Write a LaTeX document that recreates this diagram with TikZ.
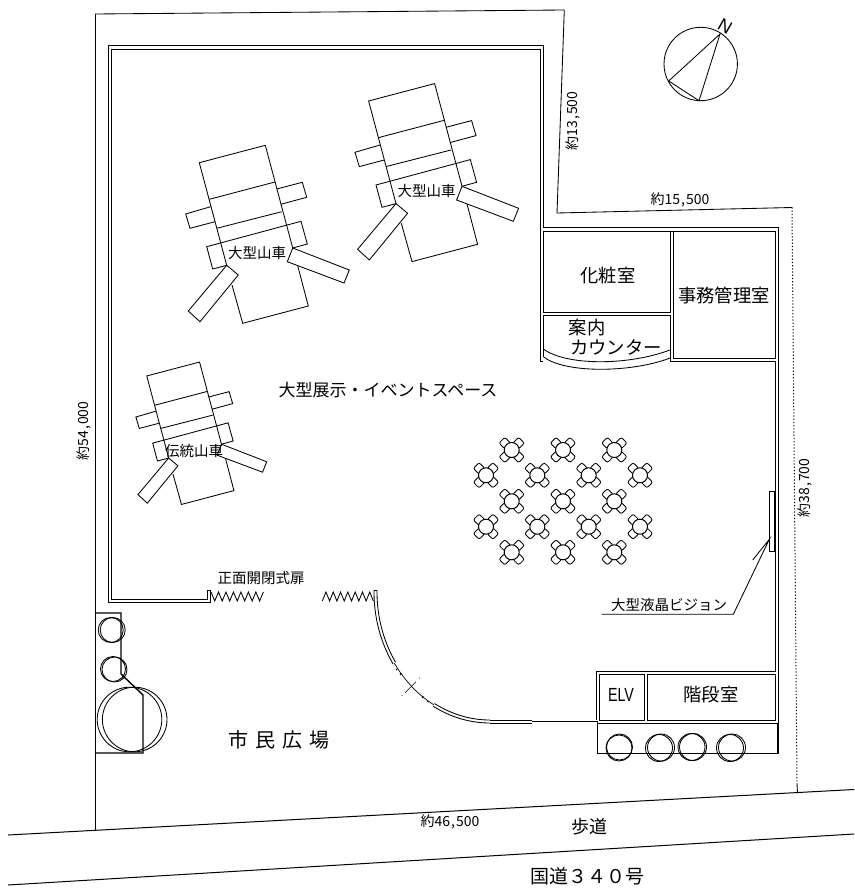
\documentclass[tikz,border=0pt]{standalone}
\usepackage{graphicx}
\usepackage{fontspec}
\setmainfont{Noto Sans CJK JP}
\newfontfamily\latinlab{Liberation Sans}
\newcommand{\vehicle}{%
  \draw[ln] (226.7,265.3) -- (199.3,162.7) -- (265.3,145.3) -- (292.7,248);
  \draw[ln] (297.7,265.7) -- (308.3,306) -- (242.7,323.3) -- (232,285);
  \draw[ln] (209.3,199.3) -- (275,182);
  \draw[ln] (216.7,228.3) -- (281.7,211.7);
  \draw[ln] (226.7,265.3) -- (212.7,269) -- (206.7,246.7) -- (301,221.3) -- (307.3,244) -- (292.7,248);
  \draw[ln] (276.7,189) -- (302.3,182.3) -- (306.7,197.3) -- (280.7,204.3);
  \draw[ln] (210.7,206.7) -- (185.7,214) -- (190,228.3) -- (215,221.7);
  \draw[ln] (226.7,265.3) -- (238.3,275) -- (200,321.7) -- (188.3,311) -- cycle;
  \draw[ln] (292.7,248) -- (349.3,270) -- (344,283) -- (287.3,261.7) -- cycle;
}
\newcommand{\tableset}[2]{%
  \begin{scope}[shift={(#1,#2)}]
    \foreach \sx/\sy in {-6.9/-6.9,6.9/-6.9,-6.9/6.9,6.9/6.9}{
      \draw[ln,fill=white,rounded corners=2pt] (\sx-5.8,\sy) -- (\sx,\sy-5.8) -- (\sx+5.8,\sy) -- (\sx,\sy+5.8) -- cycle;
    }
    \draw[line width=1pt,fill=white] (0,0) circle[radius=7.5pt];
  \end{scope}
}
\tikzset{
  ln/.style={line width=.85pt,black,line join=miter},
  heavy/.style={line width=1.4pt,black},
  txt/.style={inner sep=0,outer sep=0,black},
  dimlab/.style={txt,font=\fontsize{14}{14}\selectfont},
  mid/.style={txt,font=\fontsize{14.5}{15}\selectfont},
  room/.style={txt,font=\fontsize{18.3}{19}\selectfont}
}
\begin{document}
\begin{tikzpicture}[x=1pt,y=-1pt]
\useasboundingbox (0,0) rectangle (854,890);
% site boundary and road
\coordinate (s1) at (95.5,830);
\coordinate (s2) at (95.5,14);
\coordinate (s3) at (564.3,10);
\coordinate (s4) at (557,213);
\coordinate (s5) at (792,207.5);
\coordinate (s6) at (797,784);
\coordinate (s7) at (797.5,793);
\draw[ln] (s1) -- (s2) -- (s3) -- (s4) -- (s5);
\draw[line width=1pt,dash pattern=on 1.2pt off 2pt] (s5) -- (s6);
\draw[ln] (s6) -- (s7);
\draw[line width=1pt] (8,835) -- (854,789.5);
\draw[line width=1pt] (8,885) -- (854,834);
% main hall walls
\draw[ln] (207,590) -- (207,599) -- (111,599) -- (111,49) -- (540,49) -- (540,361) -- (543,361);
\draw[ln] (210,590) -- (207,590);
\draw[ln] (210,590) -- (210,602.5) -- (108,602.5) -- (108,45.5) -- (543.3,45.5) -- (543.3,227) -- (778,227) -- (778,754);
\draw[ln] (543.3,231) -- (775,231) -- (775,358) -- (673,358) -- (673,231);
\draw[ln] (543.3,231) rectangle (670,312);
\draw[ln] (543.3,356.7) -- (543.3,315) -- (670,315) -- (670,361) -- (775,361) -- (775,671) -- (596.5,671) -- (596.5,720);
% counter curve
\draw[ln] (543.3,349) .. controls (566,365.8) and (628,365.8) .. (670,350);
\draw[ln] (543.3,356.7) .. controls (564,373) and (627,373) .. (666.7,359.3) -- (670,358);
% stair block
\draw[ln] (599.3,674) rectangle (644,720.5);
\draw[ln] (647,674) rectangle (775,720.5);
\draw[ln] (597.3,723.3) -- (777,723.3);
\draw[heavy] (597.3,721) -- (597.3,753.3) -- (777.2,753.3) -- (777.2,723.3);
\draw[ln] (490,723) -- (532,723);
\draw[ln] (490,720) -- (532,720);
\draw[line width=1.1pt] (532,721.2) -- (597,721.2);
\draw[ln] (619,748) circle[radius=13pt];
\draw[ln] (619.5,747) circle[radius=13pt];
\draw[ln] (659,748) circle[radius=13.5pt];
\draw[ln] (661,747.5) circle[radius=13.5pt];
\draw[ln] (691.5,747) circle[radius=13.5pt];
\draw[ln] (693,747) circle[radius=13.5pt];
\draw[ln] (730,748) circle[radius=13.5pt];
\draw[ln] (732,747.5) circle[radius=13.5pt];
% curved front wall
\draw[ln] (374,590) -- plot[domain=180:146.7,samples=30] ({490+116*cos(\x)},{592+131*sin(\x)});
\draw[ln] (377,590) -- plot[domain=180:146.7,samples=30] ({490+113*cos(\x)},{592+128*sin(\x)});
\draw[ln] plot[domain=119.4:90,samples=30] ({490+116*cos(\x)},{592+131*sin(\x)});
\draw[ln] plot[domain=119.4:90,samples=30] ({490+113*cos(\x)},{592+128*sin(\x)});
\draw[line width=.7pt] plot[domain=146.7:119.4,samples=30] ({490+114.5*cos(\x)},{592+129.5*sin(\x)});
\fill (400.7,674) circle[radius=1.1pt];
\fill (422.7,697) circle[radius=1.1pt];
\fill (396.5,669.5) circle[radius=.9pt];
\fill (428,701.5) circle[radius=.9pt];
\draw[line width=.6pt] (405,692.7) -- (416,681.7);
\fill (402,695.7) circle[radius=.5pt];
\fill (419.3,678) circle[radius=.5pt];
% front door
\draw[ln] (377,590) -- (374,590);
\draw[ln] (211,592) \foreach \i in {1,...,7}{ -- ++(3.74,9) -- ++(3.74,-9)};
\draw[ln] (322.3,601) \foreach \i in {1,...,7}{ -- ++(3.65,-9) -- ++(3.65,9)};
% planter
\draw[heavy] (95.5,613) -- (121,613) -- (121,674) -- (143,695) -- (143,753) -- (95.5,753);
\draw[ln] (110.7,630) circle[radius=12.5pt];
\draw[ln] (112.7,630) circle[radius=12.5pt];
\draw[ln] (113,669) circle[radius=12.5pt];
\draw[ln] (114.5,669.5) circle[radius=12.5pt];
\draw[ln] (129.5,719.5) circle[radius=32.3pt];
\draw[ln] (134.7,719.5) circle[radius=32.3pt];
% floats / vehicles
\vehicle
\begin{scope}[shift={(169.3,-61.7)}]\vehicle\end{scope}
\begin{scope}[shift={(-12.7,245.8)},scale=.8]\vehicle\end{scope}
% tables
\foreach \tx in {511.7,563,614.3}{\foreach \ty in {450,501.3,552.3}{\tableset{\tx}{\ty}}}
\foreach \tx in {486,537.3,588.7,640}{\foreach \ty in {475.3,526.7}{\tableset{\tx}{\ty}}}
% LCD
\draw[ln] (769.3,491) rectangle (774,551.7);
\coordinate (lcd) at (769.3,539.3);
\coordinate (lead1) at (601.7,614.3);
\coordinate (lead2) at (733.3,614.3);
\coordinate (lead3) at (752.7,560);
\draw[ln] (lead1) -- (lead2) -- (lcd) -- (lead3);
% compass
\draw[ln] (700.7,64) circle[radius=36.7pt];
\draw[ln] (720,34) -- (668.7,81) -- (699,100.7) -- cycle;
\node[txt,rotate=-30,font=\latinlab\fontsize{18}{18}\selectfont] (north) at (725,26) {N};
% labels
\node[mid] (v1) at (257,253) {大型山車};
\node[mid] (v2) at (426.5,191.5) {大型山車};
\node[mid] (v3) at (194,451) {伝統山車};
\node[txt,font=\fontsize{17}{18}\selectfont] (hall) at (388,390) {大型展示・イベントスペース};
\node[room] (toilet) at (608,276) {化粧室};
\node[room] (office) at (724,296) {事務管理室};
\node[room] (guide) at (587,328) {案内};
\node[room] (counter) at (616,347) {カウンター};
\node[txt,font=\latinlab\fontsize{19}{19}\selectfont] (elv) at (621,694.5) {\scalebox{.75}[1]{ELV}};
\node[room] (stairs) at (711,695) {階段室};
\node[txt,font=\fontsize{20}{20}\selectfont] (plaza) at (279,740) {市\hspace{7pt}民\hspace{7pt}広\hspace{7pt}場};
\node[mid] (door) at (261,578) {正面開閉式扉};
\node[mid] (lcdlab) at (669,605) {大型液晶ビジョン};
\node[txt,font=\fontsize{18}{18}\selectfont] (walk) at (589.5,827) {歩道};
\node[txt,font=\fontsize{19}{20}\selectfont] (road) at (587.5,876) {国道３４０号};
\node[dimlab] (d1) at (450,822) {約46\kern1pt,\kern1pt500};
\node[dimlab] (d2) at (680,200) {約15\kern1pt,\kern1pt500};
\node[dimlab,rotate=90] (d3) at (572.7,121) {約13\kern1pt,\kern1pt500};
\node[dimlab,rotate=90] (d4) at (84,431) {約54\kern1pt,\kern1pt000};
\node[dimlab,rotate=90] (d5) at (804.5,488) {約38\kern1pt,\kern1pt700};
\end{tikzpicture}
\end{document}
